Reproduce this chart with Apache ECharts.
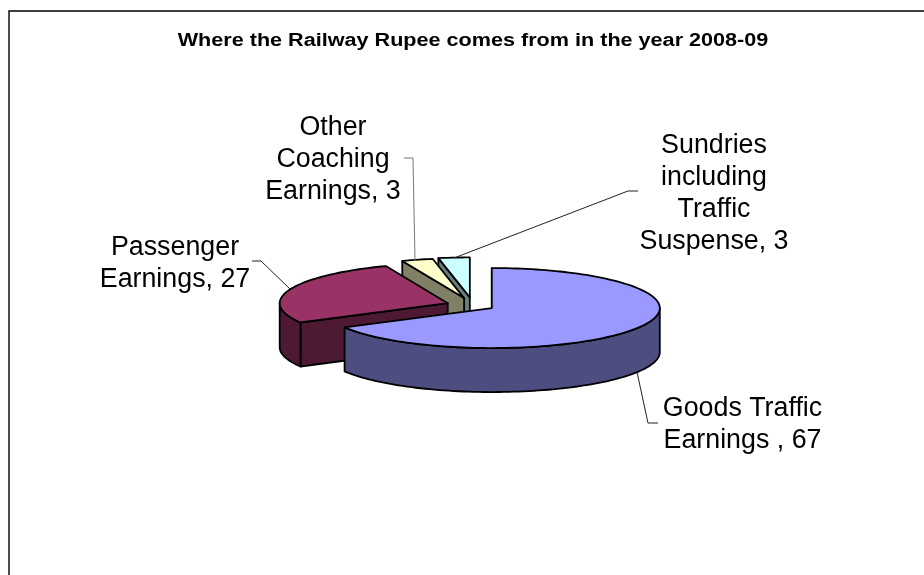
<!DOCTYPE html>
<html>
<head>
<meta charset="utf-8">
<title>Railway Rupee</title>
<style>html,body{margin:0;padding:0;background:#fff}#chart{width:924px;height:575px}</style>
<script src="https://cdn.jsdelivr.net/npm/echarts@6/dist/echarts.min.js"></script>
</head>
<body>
<div id="chart"></div>
<script>
// Earnings shares, in paise per rupee
const sliceNames = ['Goods Traffic Earnings ', 'Passenger Earnings', 'Other Coaching Earnings', 'Sundries including Traffic Suspense'];
const sliceValues = [67, 27, 3, 3];
const labelLines = [
  ['Goods Traffic', 'Earnings ,'],
  ['Passenger', 'Earnings,'],
  ['Other', 'Coaching', 'Earnings,'],
  ['Sundries', 'including', 'Traffic', 'Suspense,']
];
const topColors = ['#9999FF', '#993366', '#FFFFCC', '#CCFFFF'];
const sideColors = ['#4D4D80', '#4D1933', '#808066', '#668080'];
const explodeFractions = [0.13, 0.16, 0.19, 0.2];
const chartTitle = 'Where the Railway Rupee comes from in the year 2008-09';

// Projection of the tilted disc
const CX = 473, CY = 305.4, RX = 168, RY = 40, DEPTH = 44;
const OUTLINE = { stroke: '#000', lineWidth: 1.8, lineJoin: 'round' };
const FONT = '26.8px "Liberation Sans", Arial, sans-serif';
const labelAnchors = [[742.5, 425], [175, 264], [333, 160], [714, 193.5]];
const leaderPaths = [
  [[637, 372], [648, 423], [658, 423]],
  [[252, 261], [261, 261], [290, 289]],
  [[404, 158], [413, 158], [415, 261]],
  [[638, 191], [628, 191], [454, 258]]
];
const leaderColors = ['#222', '#222', '#777', '#222'];

const total = sliceValues.reduce((a, b) => a + b, 0);
const starts = [];
sliceValues.reduce((acc, v, i) => { starts[i] = acc; return acc + v; }, 0);
const toAngle = v => v / total * Math.PI * 2;

// Point on the ellipse, angle measured clockwise from twelve o'clock
const rimPoint = (c, a) => [c[0] + RX * Math.sin(a), c[1] - RY * Math.cos(a)];
const drop = p => [p[0], p[1] + DEPTH];

function arcPoints(c, a0, a1) {
  const pts = [], steps = Math.max(2, Math.ceil((a1 - a0) / 0.03));
  for (let i = 0; i <= steps; i++) pts.push(rimPoint(c, a0 + (a1 - a0) * i / steps));
  return pts;
}

function polygon(points, fill) {
  return { type: 'polygon', shape: { points }, style: Object.assign({ fill }, OUTLINE) };
}

function renderSlice(i, value) {
  const a0 = toAngle(starts[i]);
  const a1 = a0 + toAngle(value);
  const mid = (a0 + a1) / 2;
  const k = explodeFractions[i];
  const c = [CX + k * RX * Math.sin(mid), CY - k * RY * Math.cos(mid)];
  const side = sideColors[i];
  const children = [];

  // Cut face on the near side of the wedge
  const startEdge = rimPoint(c, a0);
  children.push(polygon([c, startEdge, drop(startEdge), drop(c)], side));

  // Front rim wall, only where the disc edge faces the viewer
  const f0 = Math.max(a0, Math.PI / 2), f1 = Math.min(a1, Math.PI * 1.5);
  if (f1 > f0) {
    const top = arcPoints(c, f0, f1);
    children.push(polygon(top.concat(top.slice().reverse().map(drop)), side));
  }

  // Top face
  children.push(polygon([c].concat(arcPoints(c, a0, a1)), topColors[i]));

  // Leader line and label
  children.push({
    type: 'polyline', shape: { points: leaderPaths[i] },
    style: { fill: 'none', stroke: leaderColors[i], lineWidth: 1 }
  });
  const lines = labelLines[i].slice();
  lines[lines.length - 1] += ' ' + value;
  children.push({
    type: 'text',
    style: {
      text: lines.join('\n'), x: labelAnchors[i][0], y: labelAnchors[i][1],
      font: FONT, lineHeight: 32, fill: '#000', align: 'center', verticalAlign: 'middle'
    }
  });
  return { type: 'group', children };
}

const chart = echarts.init(document.getElementById('chart'), null, { renderer: 'canvas' });
// Back wedges are painted first so the nearer ones overlap them
const paintOrder = [3, 2, 1, 0];
chart.setOption({
  animation: false,
  backgroundColor: '#fff',
  graphic: [{
    type: 'polyline', silent: true,
    shape: { points: [[924, 11], [9, 11], [9, 575]] },
    style: { fill: 'none', stroke: '#000', lineWidth: 1.4 }
  }, {
    // Title is set wide, stretched horizontally about its centre
    type: 'text', silent: true,
    x: 473, y: 41.5, scaleX: 1.2,
    style: {
      text: chartTitle, x: 0, y: 0, fill: '#000', align: 'center', verticalAlign: 'middle',
      font: 'bold 18px "Liberation Sans", Arial, sans-serif'
    }
  }],
  series: [{
    type: 'custom',
    coordinateSystem: 'none',
    clip: false,
    renderItem: (params) => {
      const i = paintOrder[params.dataIndex];
      return renderSlice(i, sliceValues[i]);
    },
    data: paintOrder.map(i => ({ name: sliceNames[i], value: [sliceValues[i]] }))
  }]
});
</script>
</body>
</html>
